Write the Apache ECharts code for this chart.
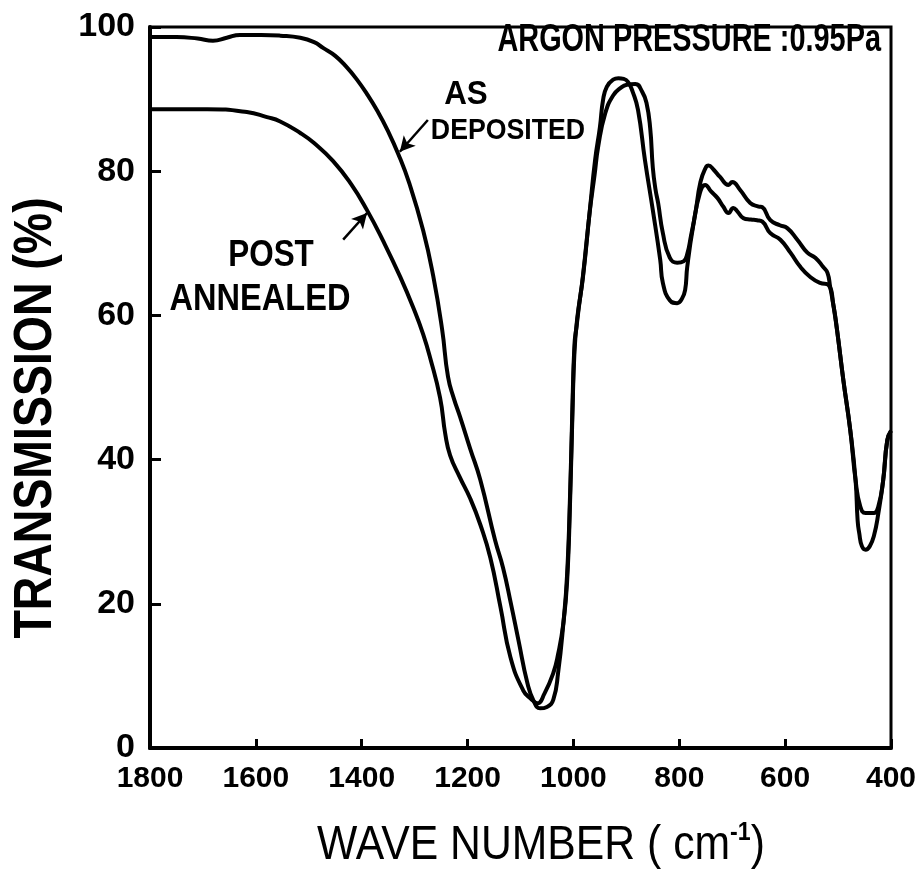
<!DOCTYPE html>
<html>
<head>
<meta charset="utf-8">
<script src="https://cdn.jsdelivr.net/npm/echarts@6/dist/echarts.min.js"></script>
<style>
  html, body { margin: 0; padding: 0; background: #fff; }
  #chart { width: 922px; height: 878px; }
</style>
</head>
<body>
<div id="chart"></div>
<script>
// wave numbers (cm-1) and transmission (%)
const asDepWave = [1800, 1750, 1710, 1681, 1655, 1630, 1590, 1554, 1516, 1490, 1473, 1450, 1428, 1409, 1390, 1370, 1352, 1331, 1310, 1284, 1265, 1248, 1237, 1226, 1214, 1195, 1176, 1148, 1133, 1118, 1104, 1087, 1075, 1063, 1050, 1038, 1029, 1019, 1012, 1006, 1002, 998, 994, 990, 982, 969, 960, 953, 940, 925, 910, 899, 883, 870, 862, 855, 850, 845, 840, 831, 818, 804, 792, 785, 778, 770, 760, 750, 745, 735, 723, 707, 700, 685, 666, 650, 643, 628, 610, 596, 577, 558, 543, 528, 520, 515, 509, 502, 490, 477, 467, 458, 448, 432, 424, 415, 407, 400];
const asDepTrans = [98.6, 98.6, 98.4, 98.1, 98.5, 98.9, 98.9, 98.8, 98.5, 97.9, 97.1, 96.0, 94.4, 92.7, 90.7, 88.3, 85.8, 82.4, 78.3, 71.8, 65.5, 58.0, 51.5, 48.5, 45.9, 41.5, 37.2, 28.8, 25.0, 20.0, 15.0, 9.0, 6.5, 5.5, 5.7, 6.7, 10.4, 17.3, 24.0, 36.0, 47.0, 56.0, 58.5, 61.0, 65.5, 74.5, 79.5, 83.5, 88.0, 90.5, 91.6, 92.0, 92.1, 91.0, 89.5, 86.0, 80.5, 77.5, 75.6, 71.4, 68.0, 67.3, 67.5, 68.5, 71.0, 74.0, 78.5, 80.5, 80.8, 80.2, 79.2, 78.1, 78.5, 77.4, 75.6, 75.1, 75.0, 73.2, 72.5, 72.1, 70.5, 68.7, 68.0, 66.7, 65.9, 64.0, 61.5, 58.0, 51.0, 44.1, 37.2, 33.5, 32.6, 32.6, 33.5, 37.0, 42.7, 44.0];

const annealWave = [1800, 1750, 1692, 1617, 1579, 1554, 1516, 1490, 1454, 1420, 1390, 1360, 1327, 1300, 1284, 1271, 1252, 1242, 1233, 1215, 1195, 1176, 1157, 1138, 1119, 1095, 1080, 1068, 1055, 1038, 1029, 1019, 1012, 1006, 1002, 998, 993, 982, 969, 959, 950, 944, 937, 925, 915, 905, 897, 888, 878, 865, 850, 836, 831, 818, 804, 795, 789, 785, 774, 761, 751, 740, 728, 717, 707, 698, 690, 679, 665, 653, 643, 628, 609, 590, 571, 552, 534, 518, 509, 502, 490, 477, 467, 463, 460, 455, 448, 440, 432, 424, 415, 407, 400];
const annealTrans = [88.6, 88.6, 88.6, 88.2, 87.5, 86.9, 85.3, 83.9, 81.4, 78.2, 74.6, 70.4, 65.3, 60.6, 57.4, 54.2, 48.6, 43.5, 40.6, 37.6, 34.6, 31.0, 26.4, 19.6, 12.6, 8.0, 6.8, 6.2, 7.5, 10.4, 13.0, 17.3, 23.0, 35.0, 46.0, 55.0, 59.5, 65.3, 74.6, 81.6, 86.1, 89.9, 91.7, 92.7, 92.9, 92.8, 92.4, 91.0, 88.5, 81.6, 74.6, 67.7, 64.5, 62.1, 61.7, 62.3, 63.5, 66.7, 72.3, 77.0, 78.1, 77.2, 76.3, 75.1, 74.2, 74.9, 74.4, 73.5, 73.3, 73.2, 73.0, 71.4, 70.5, 68.7, 66.7, 65.3, 64.5, 64.2, 61.5, 58.0, 51.0, 44.1, 37.2, 31.5, 29.8, 28.0, 27.5, 28.0, 29.5, 32.5, 37.0, 42.7, 44.0];

// label arrows, [from, to] in data units
const asDepArrow = [[1275, 87.1], [1328, 82.7]];
const annealArrow = [[1435, 70.5], [1390, 74.2]];

const fam = "'Liberation Sans', Arial, sans-serif";

const zip = (xs, ys) => xs.map((x, i) => [x, ys[i]]);

const arrowLine = (a) => ({
  silent: true,
  symbol: ["none", "arrow"],
  symbolSize: [12, 15],
  label: { show: false },
  lineStyle: { color: "#000", width: 2.5, type: "solid" },
  emphasis: { disabled: true },
  data: [[{ coord: a[0] }, { coord: a[1] }]],
});

// condensed text, the original lettering is narrow
const label = (text, x, y, size, sx, align, extra) => ({
  type: "text",
  x: x,
  y: y,
  scaleX: sx,
  style: Object.assign(
    {
      text: text,
      fill: "#000",
      font: "bold " + size + "px " + fam,
      align: align || "center",
      verticalAlign: "middle",
    },
    extra || {}
  ),
});

const chart = echarts.init(document.getElementById("chart"));

chart.setOption({
  animation: false,
  backgroundColor: "#fff",
  grid: {
    left: 150,
    right: 31,
    top: 27,
    bottom: 130,
    show: true,
    borderColor: "#000",
    borderWidth: 3,
  },
  xAxis: {
    type: "value",
    min: 400,
    max: 1800,
    interval: 200,
    inverse: true,
    splitLine: { show: false },
    axisLine: { show: true, lineStyle: { color: "#000", width: 4 } },
    axisTick: { show: true, inside: true, length: 9, lineStyle: { color: "#000", width: 3 } },
    axisLabel: {
      margin: 16,
      color: "#000",
      fontFamily: fam,
      fontWeight: "bold",
      fontSize: 30,
      formatter: (v) => String(v),
    },
  },
  yAxis: {
    type: "value",
    min: 0,
    max: 100,
    interval: 20,
    splitLine: { show: false },
    axisLine: { show: true, lineStyle: { color: "#000", width: 4 } },
    axisTick: { show: true, inside: true, length: 11, lineStyle: { color: "#000", width: 3 } },
    axisLabel: {
      margin: 15,
      color: "#000",
      fontFamily: fam,
      fontWeight: "bold",
      fontSize: 34,
    },
  },
  series: [
    {
      name: "AS DEPOSITED",
      type: "line",
      data: zip(asDepWave, asDepTrans),
      showSymbol: false,
      smooth: 0.5,
      lineStyle: { color: "#000", width: 4, join: "round" },
      markLine: arrowLine(asDepArrow),
    },
    {
      name: "POST ANNEALED",
      type: "line",
      data: zip(annealWave, annealTrans),
      showSymbol: false,
      smooth: 0.5,
      lineStyle: { color: "#000", width: 4, join: "round" },
      markLine: arrowLine(annealArrow),
    },
  ],
  graphic: [
    Object.assign(label("TRANSMISSION (%)", 36, 418, 54, 0.86), { rotation: Math.PI / 2 }),
    label("WAVE NUMBER ( cm{sup|-1})", 541, 846, 48, 0.89, "center", {
      font: "48px " + fam,
      rich: {
        sup: { font: "bold 26px " + fam, fill: "#000", padding: [0, 0, 26, 0] },
      },
    }),
    label("ARGON PRESSURE :0.95Pa", 881, 41, 38, 0.76, "right"),
    label("AS", 466, 95, 33, 0.95),
    label("DEPOSITED", 508, 131, 30, 0.89),
    label("POST", 271, 256, 37, 0.85),
    label("ANNEALED", 260, 300, 37, 0.88),
  ],
});
</script>
</body>
</html>
